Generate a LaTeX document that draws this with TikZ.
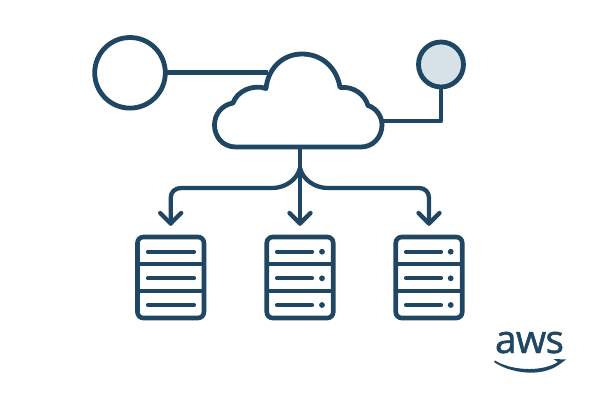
\documentclass[tikz,border=0pt]{standalone}
\usepackage{fontspec}
\usetikzlibrary{calc}
\setmainfont{Open Sans}
\newfontfamily\logofont[FakeBold=1.2,LetterSpace=-2]{Open Sans}
\definecolor{navy}{HTML}{1F4663}
\definecolor{pale}{HTML}{D6E1E8}
\tikzset{
  x=1pt,y=-1pt,
  ln/.style={draw=navy,line width=4.8pt,line cap=round,line join=round},
  hub/.style={circle,draw=navy,line width=4.8pt,inner sep=0pt,outer sep=0pt},
  rack/.style={rectangle,draw=navy,line width=4.6pt,rounded corners=6pt,minimum width=66.5pt,minimum height=81pt,inner sep=0pt,outer sep=0pt},
  bar/.style={draw=navy,line width=4.2pt,line cap=round},
  sep/.style={draw=navy,line width=3.8pt},
  stem/.style={draw=navy,line width=4.3pt,line cap=round,line join=round},
  logo/.style={text=navy,font=\logofont\fontsize{39}{39}\selectfont,inner sep=0pt},
}
\begin{document}
\begin{tikzpicture}
\useasboundingbox (0,0) rectangle (600,400);
\node[hub,minimum size=70.6pt] (user) at (130,72.8) {};
\node[hub,minimum size=45pt,fill=pale] (gate) at (441,64.5) {};
\coordinate (cloudL) at (268,72.5);
\coordinate (cloudR) at (382,121);
\coordinate (cloudB) at (300,147);
\coordinate (fork) at (300,168);
\coordinate (elbow) at (441,121);
\draw[ln,line cap=butt] (user.east |- cloudL) -- (cloudL);
\draw[ln,line cap=butt] (cloudR) -- (elbow) -- (gate.south);
% cloud
\draw[ln,fill=white] (236,147)
  .. controls (222,147) and (214.5,136) .. (214.5,125)
  .. controls (214.5,114) and (222,105) .. (233,103)
  .. controls (237,91) and (253,84) .. (266,88.5)
  .. controls (268,68) and (283,54) .. (302,54)
  .. controls (322,54) and (337,68) .. (340,87.5)
  .. controls (354,86) and (365,95) .. (368,105.5)
  .. controls (376,108) and (382,116) .. (382,125)
  .. controls (382,137) and (373,147) .. (361,147) -- cycle;
% servers
\foreach \n/\cx in {a/170.7,b/300,c/429}{
  \node[rack] (\n) at (\cx,277.5) {};
  \draw[sep] (\n.west |- 0,264.3) -- (\n.east |- 0,264.3);
  \draw[sep] (\n.west |- 0,291) -- (\n.east |- 0,291);
  \coordinate (tip\n) at (\n.center |- 0,223.5);
  \draw[stem] ($(tip\n)+(-10.5,-10.5)$) -- (tip\n) -- ($(tip\n)+(10.5,-10.5)$);
}
\foreach \y in {251.7,278.3,305}{
  \draw[bar] (148,\y) -- (194,\y);
  \draw[bar] (277,\y) -- (312,\y);
  \draw[bar] (406,\y) -- (441,\y);
  \fill[navy] (322,\y) circle (2.9pt);
  \fill[navy] (450.7,\y) circle (2.9pt);
}
% connectors
\draw[stem] (cloudB) -- (tipb);
\draw[stem] (fork) .. controls (297,180) and (285,188) .. (272,188)
  -- (181,188) .. controls (175,188) and (tipa |- 0,192) .. (tipa |- 0,198) -- (tipa);
\draw[stem] (fork) .. controls (303,180) and (315,188) .. (328,188)
  -- (419,188) .. controls (425,188) and (tipc |- 0,192) .. (tipc |- 0,198) -- (tipc);
% logo
\node[logo,anchor=base] (aws) at (529.5,353) {aws};
\coordinate (smileA) at (494,362);
\coordinate (smileB) at (560,364);
\fill[navy] (smileA) .. controls (508,372) and (540,379) .. (smileB)
  -- (566,359.5) -- (553.5,359) -- (558,362)
  .. controls (540,373) and (510,370) .. (495,360.5) -- cycle;
\end{tikzpicture}
\end{document}
